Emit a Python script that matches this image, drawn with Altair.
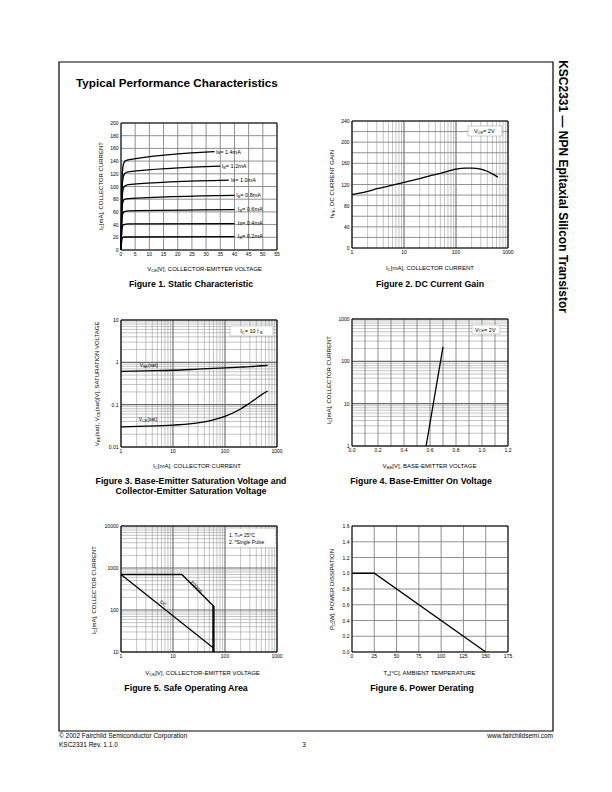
import altair as alt
import pandas as pd

# ===================== DATA =====================
# Figure 1 - Static Characteristic: I_C [mA] vs V_CE [V], one curve per I_B
IB_VALUES = ["1.4mA", "1.2mA", "1.0mA", "0.8mA", "0.6mA", "0.4mA", "0.2mA"]
IB14_V = [0, 0.2, 0.4, 0.7, 1.0, 1.5, 2.5, 33]
IB14_I = [0, 70, 115, 132, 137, 140, 142, 155]
IB12_V = [0, 0.2, 0.4, 0.7, 1.0, 1.5, 2.5, 35]
IB12_I = [0, 60, 98, 113, 118, 121, 123, 132]
IB10_V = [0, 0.2, 0.4, 0.7, 1.0, 1.5, 2.5, 38]
IB10_I = [0, 50, 82, 95, 99, 101, 103, 110]
IB08_V = [0, 0.2, 0.4, 0.7, 1.0, 1.5, 2.5, 40]
IB08_I = [0, 42, 68, 76, 79, 80, 81, 86]
IB06_V = [0, 0.2, 0.4, 0.7, 1.0, 1.5, 2.5, 40]
IB06_I = [0, 32, 52, 58, 60, 61, 61.5, 63.5]
IB04_V = [0, 0.2, 0.4, 0.7, 1.0, 2.5, 40]
IB04_I = [0, 22, 35, 39, 40, 41, 41.5]
IB02_V = [0, 0.2, 0.4, 0.7, 1.0, 40]
IB02_I = [0, 12, 18, 20, 20.5, 21]
IB_LABEL_V = [33.5, 35.5, 38.8, 40.6, 41.2, 41.2, 41.2]
IB_LABEL_I = [155, 132, 111, 86, 64, 43, 22]

# Figure 2 - DC Current Gain (V_CE = 2V)
F2_IC = [1, 2, 3, 5, 10, 20, 30, 50, 100, 150, 200, 300, 400, 500, 640]
F2_HFE = [101, 107, 112, 117, 124, 131, 136, 141, 149, 151, 151, 149, 145, 140, 134]

# Figure 3 - Saturation voltages (I_C = 10 I_B)
F3_IC = [1, 3, 10, 30, 100, 200, 300, 400, 500, 660]
F3_VBE = [0.61, 0.63, 0.65, 0.69, 0.74, 0.77, 0.79, 0.81, 0.83, 0.85]
F3_VCE = [0.030, 0.031, 0.033, 0.037, 0.053, 0.079, 0.11, 0.14, 0.17, 0.21]

# Figure 4 - Base-Emitter On Voltage (V_CE = 2V)
F4_VBE = [0.57, 0.70]
F4_IC = [1, 220]

# Figure 5 - Safe Operating Area
F5_PULSE_V = [1, 14.8, 60, 60]
F5_PULSE_I = [700, 700, 125, 10]
F5_DC_V = [1, 60, 60]
F5_DC_I = [700, 12.4, 10]

# Figure 6 - Power Derating
F6_TA = [0, 25, 150]
F6_PD = [1.0, 1.0, 0.0]

# Tick labels / grid values
F1_XTICKS = [0, 5, 10, 15, 20, 25, 30, 35, 40, 45, 50, 55]
F1_YTICKS = [0, 20, 40, 60, 80, 100, 120, 140, 160, 180, 200]
F2_YTICKS = [0, 40, 80, 120, 160, 200, 240]
F2_YGRID = [0, 20, 40, 60, 80, 100, 120, 140, 160, 180, 200, 220, 240]
DEC_1_1000 = [1, 10, 100, 1000]
F3_YTICKS = [0.01, 0.1, 1, 10]
F4_XTICKS = [0.0, 0.2, 0.4, 0.6, 0.8, 1.0, 1.2]
F4_XGRID = [0.0, 0.1, 0.2, 0.3, 0.4, 0.5, 0.6, 0.7, 0.8, 0.9, 1.0, 1.1, 1.2]
F5_YTICKS = [10, 100, 1000, 10000]
F6_XTICKS = [0, 25, 50, 75, 100, 125, 150, 175]
F6_YTICKS = [0.0, 0.2, 0.4, 0.6, 0.8, 1.0, 1.2, 1.4, 1.6]
MANT = [2, 3, 4, 5, 6, 7, 8, 9]


def minors(exps):
    return [m * 10.0 ** k for k in exps for m in MANT]


# ===================== LAYOUT HELPERS =====================
FONT = "Liberation Sans"
W, H = 590, 770
ONE = pd.DataFrame({"k": [0]})
GRID = "#858585"
GRID_MAJ = "#6a6a6a"
GRID_MIN = "#9c9c9c"
TICKFS = 5


def P(v):
    return v - 8


CW = dict(zip(" !()*,-./0123456789:=[]\u00b0",
              [278, 278, 333, 333, 389, 278, 333, 278, 278] + [556] * 10 + [278, 584, 278, 278, 400]))
CW.update(zip("ABCDEFGHIJKLMNOPQRSTUVWXYZ",
              [667, 667, 722, 722, 667, 611, 778, 722, 278, 500, 667, 556, 833, 722, 778, 667, 778,
               722, 667, 611, 722, 667, 944, 667, 667, 611]))
CW.update(zip("abcdefghijklmnopqrstuvwxyz",
              [556, 556, 500, 556, 556, 278, 556, 556, 222, 222, 500, 222, 833, 556, 556, 556, 556,
               333, 500, 278, 556, 500, 722, 500, 500, 500]))
SUBR = 0.72


def tw(s, size):
    return sum(CW.get(c, 556) for c in s) * size / 1000.0


def ptext(text, x, y, size, bold=False, align="center", angle=0, color="black"):
    return alt.Chart(ONE).mark_text(
        text=text, font=FONT, fontSize=size, fontWeight="bold" if bold else "normal",
        align=align, baseline="middle", angle=angle, color=color,
    ).encode(x=alt.value(P(x)), y=alt.value(P(y)))


def rich_px(segs, x, y, size, vertical=False, anchor="middle"):
    widths = [tw(t, size * SUBR if s else size) for t, s in segs]
    total = sum(widths)
    pos = {"start": 0.0, "middle": -total / 2, "end": -total}[anchor]
    out = []
    for (t, s), w in zip(segs, widths):
        fs = size * SUBR if s else size
        sh = size * 0.3 if s else 0.0
        if vertical:
            out.append(ptext(t, x + sh, y - pos, fs, align="left", angle=270))
        else:
            out.append(ptext(t, x + pos, y + sh, fs, align="left"))
        pos += w
    return out


def rich_data(segs, xv, yv, xs, ys, size, anchor="start"):
    df = pd.DataFrame({"x": [xv], "y": [yv]})
    widths = [tw(t, size * SUBR if s else size) for t, s in segs]
    total = sum(widths)
    pos = {"start": 0.0, "middle": -total / 2, "end": -total}[anchor]
    out = []
    for (t, s), w in zip(segs, widths):
        fs = size * SUBR if s else size
        sh = size * 0.3 if s else 0.0
        out.append(alt.Chart(df).mark_text(
            text=t, font=FONT, fontSize=fs, align="left", baseline="middle",
            dx=pos, dy=sh, color="black",
        ).encode(x=alt.X("x:Q", scale=xs, axis=None), y=alt.Y("y:Q", scale=ys, axis=None)))
        pos += w
    return out


def mk_scales(rect, xdom, ydom, xtype, ytype):
    l, t, r, b = rect
    xk = dict(type=xtype, domain=xdom, range=[P(l), P(r)], nice=False)
    yk = dict(type=ytype, domain=ydom, range=[P(b), P(t)], nice=False)
    if xtype == "linear":
        xk["zero"] = False
    if ytype == "linear":
        yk["zero"] = False
    return alt.Scale(**xk), alt.Scale(**yk)


def xlabels(vals, fmt, xs, bottom):
    df = pd.DataFrame({"v": vals})
    return alt.Chart(df).mark_text(font=FONT, fontSize=TICKFS, align="center", baseline="top",
                                   color="black").encode(
        x=alt.X("v:Q", scale=xs, axis=None), y=alt.value(P(bottom) + 2),
        text=alt.Text("v:Q", format=fmt))


def ylabels(vals, fmt, ys, left):
    df = pd.DataFrame({"v": vals})
    return alt.Chart(df).mark_text(font=FONT, fontSize=TICKFS, align="right", baseline="middle",
                                   color="black").encode(
        y=alt.Y("v:Q", scale=ys, axis=None), x=alt.value(P(left) - 2.5),
        text=alt.Text("v:Q", format=fmt))


def vgrid(vals, xs, ys, ydom, color, width):
    df = pd.DataFrame({"g": vals})
    return alt.Chart(df).mark_rule(color=color, strokeWidth=width).encode(
        x=alt.X("g:Q", scale=xs, axis=None),
        y=alt.YDatum(ydom[0], scale=ys, axis=None),
        y2=alt.Y2Datum(ydom[1]),
    )


def hgrid(vals, xs, ys, xdom, color, width):
    df = pd.DataFrame({"g": vals})
    return alt.Chart(df).mark_rule(color=color, strokeWidth=width).encode(
        y=alt.Y("g:Q", scale=ys, axis=None),
        x=alt.XDatum(xdom[0], scale=xs, axis=None),
        x2=alt.X2Datum(xdom[1]),
    )


def frame(xs, ys, xdom, ydom):
    return alt.Chart(ONE).mark_rect(fillOpacity=0, stroke="black", strokeWidth=1).encode(
        x=alt.XDatum(xdom[0], scale=xs, axis=None), x2=alt.X2Datum(xdom[1]),
        y=alt.YDatum(ydom[0], scale=ys, axis=None), y2=alt.Y2Datum(ydom[1]),
    )


def curve(xv, yv, xs, ys, interp="linear", width=1.3):
    df = pd.DataFrame({"x": xv, "y": yv, "i": list(range(len(xv)))})
    return alt.Chart(df).mark_line(color="black", strokeWidth=width, interpolate=interp).encode(
        x=alt.X("x:Q", scale=xs, axis=None),
        y=alt.Y("y:Q", scale=ys, axis=None),
        order=alt.Order("i:Q"),
    )


def pbox(x0, y0, x1, y1, stroke="#9a9a9a", sw=0.5):
    return alt.Chart(ONE).mark_rect(fill="white", stroke=stroke, strokeWidth=sw).encode(
        x=alt.value(P(x0)), x2=alt.value(P(x1)), y=alt.value(P(y0)), y2=alt.value(P(y1)))


# ===================== FIGURE 1 =====================
R1 = (121, 123, 277, 250)
X1, Y1 = [0, 55], [0, 200]
xs1, ys1 = mk_scales(R1, X1, Y1, "linear", "linear")
f1 = [
    vgrid(F1_XTICKS, xs1, ys1, Y1, GRID, 0.9),
    hgrid(F1_YTICKS, xs1, ys1, X1, GRID, 0.9),
    frame(xs1, ys1, X1, Y1),
    xlabels(F1_XTICKS, "d", xs1, R1[3]),
    ylabels(F1_YTICKS, "d", ys1, R1[0]),
]
for v, i in [(IB14_V, IB14_I), (IB12_V, IB12_I), (IB10_V, IB10_I), (IB08_V, IB08_I),
             (IB06_V, IB06_I), (IB04_V, IB04_I), (IB02_V, IB02_I)]:
    f1.append(curve(v, i, xs1, ys1, "monotone"))
for k, lab in enumerate(IB_VALUES):
    f1 += rich_data([("I", 0), ("B", 1), (" = " + lab, 0)], IB_LABEL_V[k], IB_LABEL_I[k],
                    xs1, ys1, 5.5)
panel1 = alt.layer(*f1)

# ===================== FIGURE 2 =====================
R2 = (352, 121, 508, 248)
X2, Y2 = [1, 1000], [0, 240]
xs2, ys2 = mk_scales(R2, X2, Y2, "log", "linear")
f2 = [
    vgrid(minors([0, 1, 2]), xs2, ys2, Y2, GRID_MIN, 0.6),
    vgrid(DEC_1_1000, xs2, ys2, Y2, GRID_MAJ, 1.1),
    hgrid(F2_YGRID, xs2, ys2, X2, GRID, 0.9),
    frame(xs2, ys2, X2, Y2),
    xlabels(DEC_1_1000, "d", xs2, R2[3]),
    ylabels(F2_YTICKS, "d", ys2, R2[0]),
    curve(F2_IC, F2_HFE, xs2, ys2, "monotone"),
]
panel2 = alt.layer(*f2)

# ===================== FIGURE 3 =====================
R3 = (121, 320, 277, 447)
X3, Y3 = [1, 1000], [0.01, 10]
xs3, ys3 = mk_scales(R3, X3, Y3, "log", "log")
f3 = [
    vgrid(minors([0, 1, 2]), xs3, ys3, Y3, GRID_MIN, 0.6),
    hgrid(minors([-2, -1, 0]), xs3, ys3, X3, GRID_MIN, 0.6),
    vgrid(DEC_1_1000, xs3, ys3, Y3, GRID_MAJ, 1.1),
    hgrid(F3_YTICKS, xs3, ys3, X3, GRID_MAJ, 1.1),
    frame(xs3, ys3, X3, Y3),
    xlabels(DEC_1_1000, "d", xs3, R3[3]),
    ylabels(F3_YTICKS, "~g", ys3, R3[0]),
    curve(F3_IC, F3_VBE, xs3, ys3, "monotone"),
    curve(F3_IC, F3_VCE, xs3, ys3, "monotone"),
]
f3 += rich_data([("V", 0), ("BE", 1), ("(sat)", 0)], 2.3, 0.86, xs3, ys3, 5)
f3 += rich_data([("V", 0), ("CE", 1), ("(sat)", 0)], 2.2, 0.045, xs3, ys3, 5)
panel3 = alt.layer(*f3)

# ===================== FIGURE 4 =====================
R4 = (352, 319, 508, 446)
X4, Y4 = [0, 1.2], [1, 1000]
xs4, ys4 = mk_scales(R4, X4, Y4, "linear", "log")
f4 = [
    hgrid(minors([0, 1, 2]), xs4, ys4, X4, GRID_MIN, 0.6),
    vgrid(F4_XGRID, xs4, ys4, Y4, GRID, 0.9),
    hgrid(DEC_1_1000, xs4, ys4, X4, GRID_MAJ, 1.1),
    frame(xs4, ys4, X4, Y4),
    xlabels(F4_XTICKS, ".1f", xs4, R4[3]),
    ylabels(DEC_1_1000, "d", ys4, R4[0]),
    curve(F4_VBE, F4_IC, xs4, ys4),
]
panel4 = alt.layer(*f4)

# ===================== FIGURE 5 =====================
R5 = (121, 526, 277, 652)
X5, Y5 = [1, 1000], [10, 10000]
xs5, ys5 = mk_scales(R5, X5, Y5, "log", "log")
f5 = [
    vgrid(minors([0, 1, 2]), xs5, ys5, Y5, GRID_MIN, 0.6),
    hgrid(minors([1, 2, 3]), xs5, ys5, X5, GRID_MIN, 0.6),
    vgrid(DEC_1_1000, xs5, ys5, Y5, GRID_MAJ, 1.1),
    hgrid(F5_YTICKS, xs5, ys5, X5, GRID_MAJ, 1.1),
    frame(xs5, ys5, X5, Y5),
    xlabels(DEC_1_1000, "d", xs5, R5[3]),
    ylabels(F5_YTICKS, "d", ys5, R5[0]),
    curve(F5_PULSE_V, F5_PULSE_I, xs5, ys5),
    curve(F5_DC_V, F5_DC_I, xs5, ys5),
    curve([60, 60], [125, 10], xs5, ys5, width=2.2),
]
lab5 = pd.DataFrame({"x": [6.5, 28.6], "y": [145, 360], "t": ["DC", "200ms"]})
f5.append(alt.Chart(lab5.iloc[[0]]).mark_text(font=FONT, fontSize=5, angle=38, color="black").encode(
    x=alt.X("x:Q", scale=xs5, axis=None), y=alt.Y("y:Q", scale=ys5, axis=None), text="t:N"))
f5.append(alt.Chart(lab5.iloc[[1]]).mark_text(font=FONT, fontSize=5, angle=44, color="black").encode(
    x=alt.X("x:Q", scale=xs5, axis=None), y=alt.Y("y:Q", scale=ys5, axis=None), text="t:N"))
panel5 = alt.layer(*f5)

# ===================== FIGURE 6 =====================
R6 = (352, 526, 508, 652)
X6, Y6 = [0, 175], [0, 1.6]
xs6, ys6 = mk_scales(R6, X6, Y6, "linear", "linear")
f6 = [
    vgrid(F6_XTICKS, xs6, ys6, Y6, GRID, 0.9),
    hgrid(F6_YTICKS, xs6, ys6, X6, GRID, 0.9),
    frame(xs6, ys6, X6, Y6),
    xlabels(F6_XTICKS, "d", xs6, R6[3]),
    ylabels(F6_YTICKS, ".1f", ys6, R6[0]),
    curve(F6_TA, F6_PD, xs6, ys6),
]
panel6 = alt.layer(*f6)

# ===================== PAGE DECORATION =====================
deco = [
    alt.Chart(ONE).mark_rect(fillOpacity=0, stroke="black", strokeWidth=1.2).encode(
        x=alt.value(P(59)), x2=alt.value(P(553)), y=alt.value(P(62)), y2=alt.value(P(731))),
    ptext("Typical Performance Characteristics", 76, 83, 11.7, bold=True, align="left"),
    ptext("KSC2331 \u2014 NPN Epitaxial Silicon Transistor", 563, 186.5, 12, bold=True, angle=90),
    ptext("\u00a9 2002 Fairchild Semiconductor Corporation", 59, 736, 6.5, align="left"),
    ptext("KSC2331 Rev. 1.1.0", 59, 745, 6.5, align="left"),
    ptext("3", 304, 745, 6.5),
    ptext("www.fairchildsemi.com", 553, 736, 6.5, align="right"),
    # captions
    ptext("Figure 1. Static Characteristic", 191, 284, 8.8, bold=True),
    ptext("Figure 2. DC Current Gain", 430, 284, 8.8, bold=True),
    ptext("Figure 3. Base-Emitter Saturation Voltage and", 191, 481, 8.8, bold=True),
    ptext("Collector-Emitter Saturation Voltage", 191, 491, 8.8, bold=True),
    ptext("Figure 4. Base-Emitter On Voltage", 421, 481, 8.8, bold=True),
    ptext("Figure 5. Safe Operating Area", 186, 688, 8.8, bold=True),
    ptext("Figure 6. Power Derating", 422, 688, 8.8, bold=True),
]
# axis titles
deco += rich_px([("V", 0), ("CE", 1), ("[V], COLLECTOR-EMITTER VOLTAGE", 0)], 205, 269, 6)
deco += rich_px([("I", 0), ("C", 1), ("[mA], COLLECTOR CURRENT", 0)], 101, 186, 6, vertical=True)
deco += rich_px([("I", 0), ("C", 1), ("[mA], COLLECTOR CURRENT", 0)], 430, 268, 6)
deco += rich_px([("h", 0), ("FE", 1), (", DC CURRENT GAIN", 0)], 332, 184, 6, vertical=True)
deco += rich_px([("I", 0), ("C", 1), ("[mA], COLLECTOR CURRENT", 0)], 197, 466, 6)
deco += rich_px([("V", 0), ("BE", 1), ("(sat), V", 0), ("CE", 1), ("(sat)[V], SATURATION VOLTAGE", 0)],
                97, 383, 6, vertical=True)
deco += rich_px([("V", 0), ("BE", 1), ("[V], BASE-EMITTER VOLTAGE", 0)], 430, 466, 6)
deco += rich_px([("I", 0), ("C", 1), ("[mA], COLLECTOR CURRENT", 0)], 329, 380, 6, vertical=True)
deco += rich_px([("V", 0), ("CE", 1), ("[V], COLLECTOR-EMITTER VOLTAGE", 0)], 203, 673, 6)
deco += rich_px([("I", 0), ("C", 1), ("[mA], COLLECTOR CURRENT", 0)], 94, 590, 6, vertical=True)
deco += rich_px([("T", 0), ("a", 1), ("[\u00b0C], AMBIENT TEMPERATURE", 0)], 430, 673, 6)
deco += rich_px([("P", 0), ("C", 1), ("[W], POWER DISSIPATION", 0)], 332, 589, 6, vertical=True)

# legend boxes inside plots
legends = [
    pbox(468, 126, 502, 136),
    pbox(230, 326, 273, 336),
    pbox(472, 325, 500, 334),
    pbox(226, 529, 275, 547, stroke="white", sw=0),
]
legends += rich_px([("V", 0), ("CE", 1), (" = 2V", 0)], 485, 131, 5.5)
legends += rich_px([("I", 0), ("C", 1), (" = 10 I", 0), ("B", 1)], 251.5, 331, 5.5)
legends += rich_px([("V", 0), ("CE", 1), (" = 2V", 0)], 486, 329.5, 5.5)
legends += rich_px([("1. T", 0), ("a", 1), (" = 25\u00b0C", 0)], 229, 534.5, 5, anchor="start")
legends += rich_px([("2. *Single Pulse", 0)], 229, 542, 5, anchor="start")

chart = alt.layer(
    *deco, panel1, panel2, panel3, panel4, panel5, panel6, *legends
).resolve_scale(
    x="independent", y="independent"
).properties(
    width=W, height=H, padding=0, autosize=alt.AutoSizeParams(type="none")
).configure_view(stroke=None)

chart.save("out.html", embed_options={"renderer": "svg", "actions": False})
